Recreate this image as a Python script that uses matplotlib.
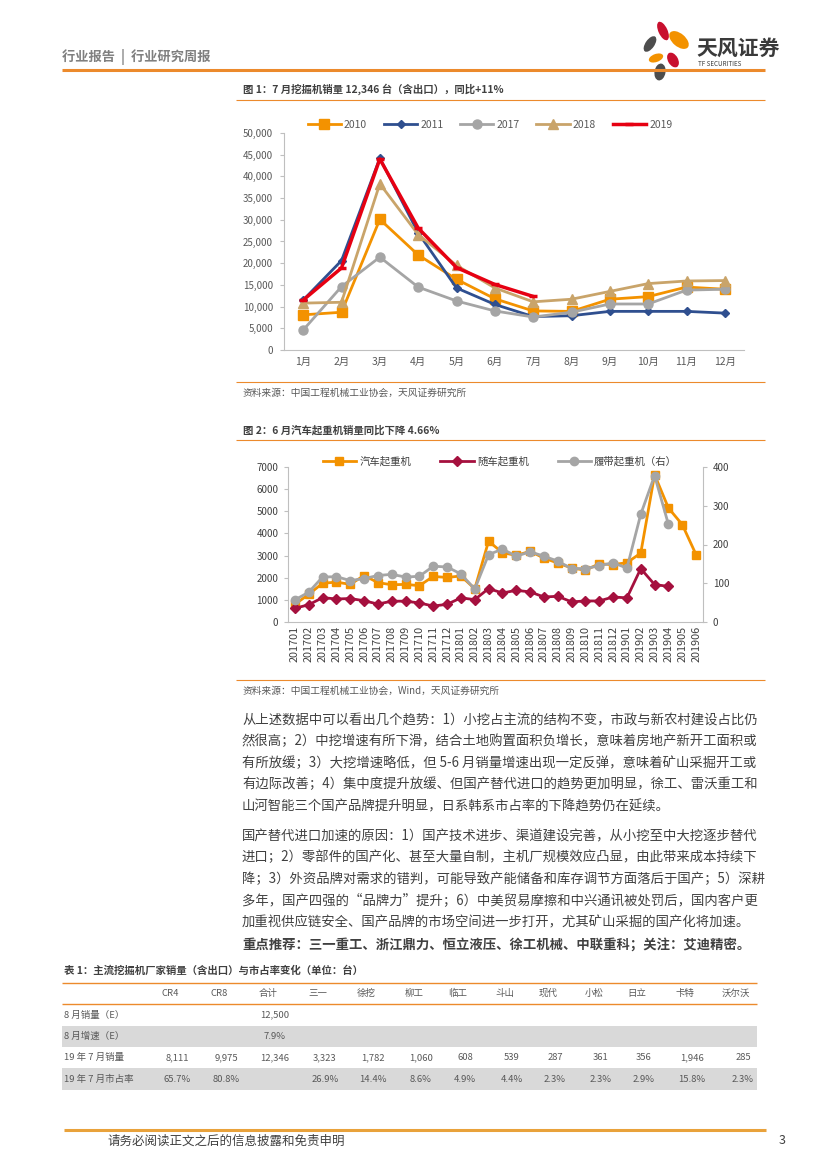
import matplotlib
matplotlib.use("Agg")

import numpy as np
import matplotlib.pyplot as plt
from matplotlib.patches import Rectangle, Ellipse
from matplotlib.ticker import FuncFormatter, MultipleLocator

plt.rcParams['font.family'] = ['Noto Sans CJK SC', 'DejaVu Sans']

# ==============================
# DATA
# ==============================
months = ['1月', '2月', '3月', '4月', '5月', '6月', '7月', '8月', '9月', '10月', '11月', '12月']
exc_2010 = [8100, 8700, 30100, 21900, 16300, 11800, 9000, 8900, 11700, 12300, 14500, 14000]
exc_2011 = [11500, 20600, 44200, 27000, 14300, 10500, 7700, 7900, 8900, 8900, 8900, 8500]
exc_2017 = [4600, 14600, 21400, 14500, 11300, 9000, 7600, 8700, 10600, 10600, 13800, 14000]
exc_2018 = [10800, 11000, 38300, 26600, 19500, 14300, 11100, 11700, 13500, 15300, 15900, 16000]
exc_2019 = [11500, 18900, 44000, 28100, 19000, 15100, 12346]

crane_months = ['201701', '201702', '201703', '201704', '201705', '201706', '201707', '201708',
                '201709', '201710', '201711', '201712', '201801', '201802', '201803', '201804',
                '201805', '201806', '201807', '201808', '201809', '201810', '201811', '201812',
                '201901', '201902', '201903', '201904', '201905', '201906']
truck_crane = [800, 1250, 1750, 1800, 1700, 2100, 1780, 1680, 1700, 1640, 2060, 2010,
               2080, 1500, 3650, 3130, 3010, 3190, 2890, 2660, 2440, 2340, 2630, 2590,
               2680, 3110, 6650, 5150, 4400, 3040]
lorry_crane = [620, 780, 1100, 1040, 1060, 960, 810, 940, 940, 860, 720, 800,
               1090, 1010, 1510, 1310, 1430, 1360, 1130, 1160, 910, 950, 950, 1130,
               1090, 2410, 1690, 1610]
crawler_crane = [57, 77, 116, 117, 107, 112, 120, 123, 116, 118, 144, 142,
                 124, 85, 174, 188, 170, 181, 170, 157, 138, 138, 145, 153,
                 139, 278, 378, 252]

table_cols = ['CR4', 'CR8', '合计', '三一', '徐挖', '柳工', '临工', '斗山', '现代', '小松', '日立', '卡特', '沃尔沃']
table_rows = ['8 月销量（E）', '8 月增速（E）', '19 年 7 月销量', '19 年 7 月市占率']
row_aug_sales = ['', '', '12,500', '', '', '', '', '', '', '', '', '', '']
row_aug_growth = ['', '', '7.9%', '', '', '', '', '', '', '', '', '', '']
row_jul_sales = ['8,111', '9,975', '12,346', '3,323', '1,782', '1,060', '608', '539', '287', '361', '356', '1,946', '285']
row_jul_share = ['65.7%', '80.8%', '', '26.9%', '14.4%', '8.6%', '4.9%', '4.4%', '2.3%', '2.3%', '2.9%', '15.8%', '2.3%']

para1 = [
    '从上述数据中可以看出几个趋势：1）小挖占主流的结构不变，市政与新农村建设占比仍',
    '然很高；2）中挖增速有所下滑，结合土地购置面积负增长，意味着房地产新开工面积或',
    '有所放缓；3）大挖增速略低，但 5-6 月销量增速出现一定反弹，意味着矿山采掘开工或',
    '有边际改善；4）集中度提升放缓、但国产替代进口的趋势更加明显，徐工、雷沃重工和',
    '山河智能三个国产品牌提升明显，日系韩系市占率的下降趋势仍在延续。',
]
para2 = [
    '国产替代进口加速的原因：1）国产技术进步、渠道建设完善，从小挖至中大挖逐步替代',
    '进口；2）零部件的国产化、甚至大量自制，主机厂规模效应凸显，由此带来成本持续下',
    '降；3）外资品牌对需求的错判，可能导致产能储备和库存调节方面落后于国产；5）深耕',
    '多年，国产四强的“品牌力”提升；6）中美贸易摩擦和中兴通讯被处罚后，国内客户更',
    '加重视供应链安全、国产品牌的市场空间进一步打开，尤其矿山采掘的国产化将加速。',
]

# ==============================
# PAGE
# ==============================
W, H = 827, 1169
ORANGE = '#EC8A2C'
TXT = '#404040'
GREY = '#595959'

fig = plt.figure(figsize=(W / 100, H / 100), dpi=100)
bg = fig.add_axes([0, 0, 1, 1])
bg.set_xlim(0, W)
bg.set_ylim(H, 0)
bg.axis('off')


def px_axes(x0, y0, x1, y1):
    return fig.add_axes([x0 / W, 1 - y1 / H, (x1 - x0) / W, (y1 - y0) / H])


def hline(y, x0, x1, lw=1.0, color=ORANGE):
    bg.plot([x0, x1], [y, y], color=color, lw=lw, solid_capstyle='butt')


# header
bg.text(62, 57, '行业报告  |  行业研究周报', fontsize=9.5, color='#7F7F7F',
        fontweight='bold', va='center')
hline(70, 62, 765, lw=2.2)

# logo
petals = [
    ((663, 31), 9, 20, -25, '#C8102E'),
    ((679, 40), 13, 23, -50, '#F39200'),
    ((650, 44), 9, 18, 35, '#4D4D4D'),
    ((656, 58), 8, 15, 70, '#F39200'),
    ((673, 60), 10, 16, -30, '#C8102E'),
    ((660, 72), 11, 17, 10, '#4D4D4D'),
]
for (cx, cy), w, h, ang, col in petals:
    bg.add_patch(Ellipse((cx, cy), w, h, angle=ang, color=col, lw=0))
bg.text(696, 48, '天风证券', fontsize=15, fontweight='bold', color='#3A3A3A', va='center')
bg.text(698, 64, 'TF SECURITIES', fontsize=4.5, color='#3A3A3A', va='center')

# ==============================
# FIGURE 1
# ==============================
bg.text(243, 89, '图 1：7 月挖掘机销量 12,346 台（含出口），同比+11%', fontsize=7.5,
        fontweight='bold', color=TXT, va='center')
hline(100, 236, 765, lw=0.8)

ax1 = px_axes(284, 133, 744, 350)
x12 = np.arange(len(months))
ax1.plot(x12, exc_2010, color='#F39200', lw=2, marker='s', ms=6.5, label='2010')
ax1.plot(x12, exc_2011, color='#2F4F8F', lw=2, marker='D', ms=4.5, label='2011')
ax1.plot(x12, exc_2017, color='#A5A5A5', lw=2, marker='o', ms=6.5, label='2017')
ax1.plot(x12, exc_2018, color='#C9A46A', lw=2, marker='^', ms=6.5, label='2018')
ax1.plot(np.arange(len(exc_2019)), exc_2019, color='#E60012', lw=2.5, marker='_', ms=6,
         mew=2.5, label='2019')
ax1.set_xlim(-0.5, 11.5)
ax1.set_ylim(0, 50000)
ax1.yaxis.set_major_locator(MultipleLocator(5000))
ax1.yaxis.set_major_formatter(FuncFormatter(lambda v, p: f'{int(v):,}'))
ax1.set_xticks(x12)
ax1.set_xticklabels(months)
ax1.tick_params(axis='x', length=0, pad=5, labelsize=7.5, labelcolor=GREY)
ax1.tick_params(axis='y', length=3, color='#BFBFBF', pad=5, labelsize=7, labelcolor=GREY)
for s in ['top', 'right']:
    ax1.spines[s].set_visible(False)
for s in ['left', 'bottom']:
    ax1.spines[s].set_color('#BFBFBF')
ax1.patch.set_alpha(0)
ax1.legend(loc='center', bbox_to_anchor=(490, 125), bbox_transform=bg.transData, ncol=5,
           frameon=False, fontsize=7.5, handlelength=3.2, columnspacing=1.6,
           handletextpad=0.3, labelcolor=GREY)

hline(382, 236, 765, lw=0.8)
bg.text(243, 393, '资料来源：中国工程机械工业协会，天风证券研究所', fontsize=7, color=GREY, va='center')

# ==============================
# FIGURE 2
# ==============================
bg.text(243, 430, '图 2：6 月汽车起重机销量同比下降 4.66%', fontsize=7.5,
        fontweight='bold', color=TXT, va='center')
hline(440, 236, 765, lw=0.8)

ax2 = px_axes(288, 467, 703, 622)
ax3 = ax2.twinx()
x30 = np.arange(len(crane_months))
h1, = ax2.plot(x30, truck_crane, color='#F39200', lw=2, marker='s', ms=6, label='汽车起重机')
h2, = ax2.plot(x30[:len(lorry_crane)], lorry_crane, color='#A5103E', lw=2, marker='D', ms=5,
               label='随车起重机')
h3, = ax3.plot(x30[:len(crawler_crane)], crawler_crane, color='#A5A5A5', lw=2, marker='o', ms=6,
               label='履带起重机（右）')
ax2.set_xlim(-0.5, len(crane_months) - 0.5)
ax2.set_ylim(0, 7000)
ax3.set_ylim(0, 400)
ax2.yaxis.set_major_locator(MultipleLocator(1000))
ax3.yaxis.set_major_locator(MultipleLocator(100))
ax2.set_xticks(x30)
ax2.set_xticklabels(crane_months, rotation=90)
ax2.tick_params(axis='x', length=0, pad=3, labelsize=7.8, labelcolor=TXT)
ax2.tick_params(axis='y', length=3, color='#BFBFBF', pad=4, labelsize=7, labelcolor=TXT)
ax3.tick_params(axis='y', length=3, color='#BFBFBF', pad=4, labelsize=7, labelcolor=TXT)
for a in (ax2, ax3):
    a.spines['top'].set_visible(False)
    for s in ['left', 'right', 'bottom']:
        a.spines[s].set_color('#BFBFBF')
ax2.spines['right'].set_visible(False)
ax3.spines['left'].set_visible(False)
ax3.spines['bottom'].set_visible(False)
ax2.patch.set_alpha(0)
ax3.legend([h1, h2, h3], [h1.get_label(), h2.get_label(), h3.get_label()], loc='center',
           bbox_to_anchor=(500, 461), bbox_transform=bg.transData, ncol=3, frameon=False,
           fontsize=7.5, handlelength=3.2, columnspacing=2.8, handletextpad=0.3,
           labelcolor=TXT)

hline(680, 236, 765, lw=0.8)
bg.text(243, 691, '资料来源：中国工程机械工业协会，Wind，天风证券研究所', fontsize=7, color=GREY, va='center')

# ==============================
# BODY TEXT
# ==============================
for i, line in enumerate(para1):
    bg.text(242, 720 + i * 21.5, line, fontsize=9.6, color=TXT, va='center')
for i, line in enumerate(para2):
    bg.text(242, 836 + i * 21.5, line, fontsize=9.6, color=TXT, va='center')
bg.text(242, 945, '重点推荐：三一重工、浙江鼎力、恒立液压、徐工机械、中联重科；关注：艾迪精密。',
        fontsize=9.6, fontweight='bold', color=TXT, va='center')

# ==============================
# TABLE
# ==============================
bg.text(64, 971, '表 1：主流挖掘机厂家销量（含出口）与市占率变化（单位：台）', fontsize=7.5,
        fontweight='bold', color=TXT, va='center')
col_x = [170, 219, 268, 318, 366, 414, 458, 505, 548, 594, 637, 685, 736]
tab_x0, tab_x1 = 62, 757
hline(983, tab_x0, tab_x1, lw=1.0)
hline(1004, tab_x0, tab_x1, lw=1.0)
for cx, c in zip(col_x, table_cols):
    bg.text(cx, 993.5, c, fontsize=6.8, color=GREY, ha='center', va='center')

row_vals = [row_aug_sales, row_aug_growth, row_jul_sales, row_jul_share]
row_h = 21.3
for r, (lab, vals) in enumerate(zip(table_rows, row_vals)):
    y0 = 1004.5 + r * row_h
    if r % 2 == 1:
        bg.add_patch(Rectangle((tab_x0, y0), tab_x1 - tab_x0, row_h, facecolor='#D9D9D9', lw=0))
    yc = y0 + row_h / 2
    bg.text(64, yc, lab, fontsize=6.8, color=GREY, va='center')
    for cx, v in zip(col_x, vals):
        bg.text(cx + 7, yc, v, fontsize=6.8, color=GREY, ha='center', va='center')

# ==============================
# FOOTER
# ==============================
hline(1130, 64, 766, lw=2.2, color='#E9A23B')
bg.text(107, 1141, '请务必阅读正文之后的信息披露和免责申明', fontsize=9, color=TXT, va='center')
bg.text(779, 1141, '3', fontsize=9, color=TXT, va='center')

fig.savefig('out.png', dpi=100)
plt.close(fig)
